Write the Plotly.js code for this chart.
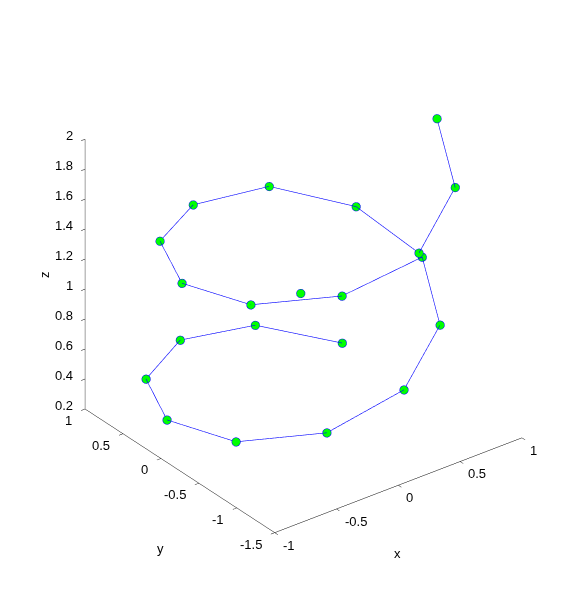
<!DOCTYPE html>
<html><head><meta charset="utf-8">
<script src="https://cdn.plot.ly/plotly-3.0.1.min.js"></script>
<style>html,body{margin:0;padding:0;background:#fff;}#chart{width:585px;height:599px;}#msg{position:absolute;top:0;left:0;font:12px monospace;color:red;}</style>
</head><body><div id="chart"></div><div id="msg"></div>
<script>
var msg = document.getElementById('msg');
window.onerror = function(m){ msg.innerHTML += 'ERR ' + m + '<br>'; };
// Curve points
var curveX = [0.819, 0.340, -0.250, -0.748, -0.997, -0.778, -0.252, 0.405, 0.902, 0.967,
              -0.085, -0.653, -0.894, -0.712, -0.201, 0.377, 0.814, 0.748, 1.000, 1.000];
var curveY = [0.574, 0.940, 0.968, 0.607, -0.075, -0.628, -0.968, -0.914, -0.580, -0.239,
              -0.896, -0.620, -0.105, 0.482, 0.877, 0.817, 0.383, -0.553, -0.620, -0.380];
var curveZ = [0.205, 0.355, 0.433, 0.450, 0.481, 0.448, 0.454, 0.515, 0.680, 1.000,
              1.290, 1.320, 1.370, 1.400, 1.350, 1.310, 1.180, 1.200, 1.580, 1.960];
// Single separate point
var pointX = [0.10];
var pointY = [-0.05];
var pointZ = [0.97];

var xRange = [-1, 1];
var yRange = [-1.5, 1];
var zRange = [0.2, 2];
var xTicks = [-1, -0.5, 0, 0.5, 1];
var xTickText = ['-1', '-0.5', '0', '0.5', '1'];
var yTicks = [-1.5, -1, -0.5, 0, 0.5, 1];
var yTickText = ['-1.5', '-1', '-0.5', '0', '0.5', '1'];
var zTicks = [0.2, 0.4, 0.6, 0.8, 1, 1.2, 1.4, 1.6, 1.8, 2];
var zTickText = ['0.2', '0.4', '0.6', '0.8', '1', '1.2', '1.4', '1.6', '1.8', '2'];

var font = {family: 'Liberation Sans, Arial, sans-serif', size: 13, color: '#000'};
function axis(range, tv) {
  return {
    range: range, autorange: false, tickmode: 'array', tickvals: tv,
    showticklabels: false,
    showgrid: false, zeroline: false, showbackground: false,
    showline: true, linecolor: '#000', linewidth: 1,
    ticks: 'outside', ticklen: 5, tickcolor: '#000', tickwidth: 1,
    showspikes: false,
    title: {text: ''}
  };
}

// Tick labels placed horizontally next to the axis edges (as in the original)
var sceneAnn = [];
xTicks.forEach(function (v, i) {
  sceneAnn.push({x: v, y: yRange[0], z: zRange[0], text: xTickText[i], showarrow: false,
    xanchor: 'left', yanchor: 'middle', xshift: 6, yshift: -12, font: font});
});
yTicks.forEach(function (v, i) {
  sceneAnn.push({x: xRange[0], y: v, z: zRange[0], text: yTickText[i], showarrow: false,
    xanchor: 'right', yanchor: 'middle', xshift: -11, yshift: -11, font: font});
});
zTicks.forEach(function (v, i) {
  sceneAnn.push({x: xRange[0], y: yRange[1], z: v, text: zTickText[i], showarrow: false,
    xanchor: 'right', yanchor: 'middle', xshift: -10, yshift: 4, font: font});
});
// Axis titles x and y
sceneAnn.push({x: 0, y: yRange[0], z: zRange[0], text: 'x', showarrow: false, xshift: -1, yshift: -68, font: font});
sceneAnn.push({x: xRange[0], y: -0.25, z: zRange[0], text: 'y', showarrow: false, xshift: -20, yshift: -77, font: font});

var traces = [
  {type: 'scatter3d', mode: 'lines+markers', x: curveX, y: curveY, z: curveZ,
   line: {color: '#0000ff', width: 1.2},
   marker: {size: 5, color: '#00ff00', line: {color: '#0000ff', width: 1}},
   hoverinfo: 'none', showlegend: false},
  {type: 'scatter3d', mode: 'markers', x: pointX, y: pointY, z: pointZ,
   marker: {size: 5, color: '#00ff00', line: {color: '#0000ff', width: 1}},
   hoverinfo: 'none', showlegend: false}
];

var layout = {
  width: 585, height: 599,
  margin: {l: 0, r: 0, t: 0, b: 0},
  paper_bgcolor: '#fff',
  showlegend: false,
  annotations: [
    {xref: 'paper', yref: 'paper', x: 45 / 585, y: 1 - 275 / 599, text: 'z', textangle: -90,
     showarrow: false, xanchor: 'center', yanchor: 'middle', font: font}
  ],
  scene: {
    domain: {x: [0.038, 1.0], y: [0.036, 1.0]},
    aspectmode: 'manual', aspectratio: {x: 1.08, y: 1.08, z: 1.08},
    xaxis: axis(xRange, xTicks),
    yaxis: axis(yRange, yTicks),
    zaxis: axis(zRange, zTicks),
    camera: {
      projection: {type: 'orthographic'},
      up: {x: 0, y: 0, z: 1},
      center: {x: 0, y: 0, z: 0},
      eye: {x: -1.054, y: -1.374, z: 1.0}
    },
    annotations: sceneAnn
  }
};

Plotly.newPlot('chart', traces, layout, {displayModeBar: false});
</script>
</body></html>
